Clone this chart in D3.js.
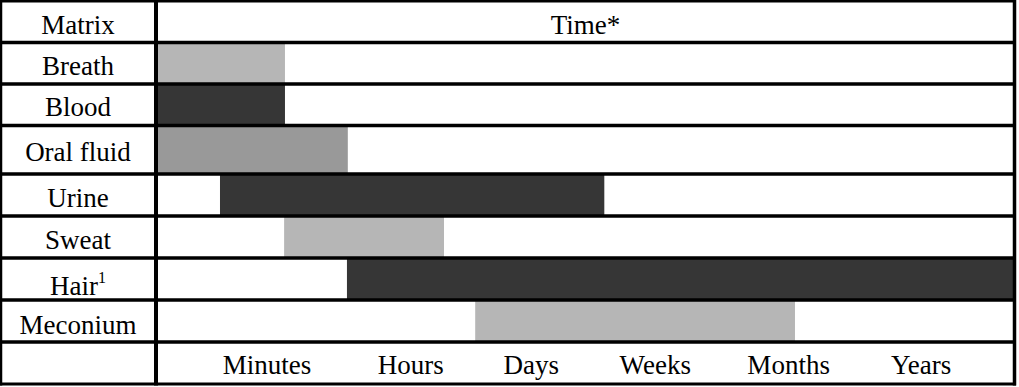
<!DOCTYPE html>
<html>
<head>
<meta charset="utf-8">
<script src="https://cdn.jsdelivr.net/npm/d3@7"></script>
<style>
  html, body { margin: 0; padding: 0; background: #fff; }
  svg { display: block; }
  text { font-family: "Liberation Serif", "Times New Roman", serif; fill: #000; }
</style>
</head>
<body>
<svg id="chart" width="1019" height="387"></svg>
<script>
// ---- data ----
const matrices = ["Breath", "Blood", "Oral fluid", "Urine", "Sweat", "Hair", "Meconium"];
const windowStart = [0, 0, 0, 7.25, 14.75, 22.1, 37.1];      // relative time position (0-100)
const windowEnd   = [14.85, 14.85, 22.2, 52.2, 33.45, 100, 74.5];
const shade       = ["light", "dark", "medium", "dark", "light", "dark", "light"];
const timeLabels  = ["Minutes", "Hours", "Days", "Weeks", "Months", "Years"];
const timeTickPos = [12.7, 29.5, 43.6, 58.1, 73.7, 89.2];
const headerLeft  = "Matrix";
const headerRight = "Time*";

// ---- layout ----
const svg = d3.select("#chart");
const colLeft = 1, colDiv = 156, colRight = 1014.5;
const fills = { light: "#b6b6b6", medium: "#999999", dark: "#363636" };

// rows: 0 = header, 1..7 matrices, 8 = time axis
const rowIndex = d3.scaleLinear().domain([0, 3, 4, 9]).range([1, 125.5, 174, 384]);
const x = d3.scaleLinear().domain([0, 100]).range([158, 1013]);

const rows = matrices.map((m, i) => ({ name: m, row: i + 1, s: windowStart[i], e: windowEnd[i], shade: shade[i] }));

// bars
svg.append("g").selectAll("rect").data(rows).join("rect")
  .attr("x", d => x(d.s))
  .attr("width", d => x(d.e) - x(d.s))
  .attr("y", d => rowIndex(d.row))
  .attr("height", d => rowIndex(d.row + 1) - rowIndex(d.row))
  .attr("fill", d => fills[d.shade]);

// grid lines (horizontal)
const hLines = d3.range(0, 10);
svg.append("g").selectAll("line").data(hLines).join("line")
  .attr("x1", colLeft - 1).attr("x2", colRight + 1.5)
  .attr("y1", d => rowIndex(d)).attr("y2", d => rowIndex(d))
  .attr("stroke", "#000").attr("stroke-width", d => (d === 0 || d === 9) ? 3 : 3.5);

// vertical lines
[[colLeft, 2.5], [colDiv, 4], [colRight, 3.5]].forEach(([vx, sw]) => {
  svg.append("line").attr("x1", vx).attr("x2", vx)
    .attr("y1", rowIndex(0) - 1.5).attr("y2", rowIndex(9) + 1.5)
    .attr("stroke", "#000").attr("stroke-width", sw);
});

const fontSize = 27;
const leftCenter = 78;
const rowBaseline = (r, off = 12) => (rowIndex(r) + rowIndex(r + 1)) / 2 + off;

// headers
svg.append("text").attr("x", leftCenter).attr("y", rowBaseline(0))
  .attr("text-anchor", "middle").attr("font-size", fontSize).text(headerLeft);
svg.append("text").attr("x", (x(0) + x(100)) / 2).attr("y", rowBaseline(0))
  .attr("text-anchor", "middle").attr("font-size", fontSize).text(headerRight);

// matrix labels
const lab = svg.append("g").selectAll("text").data(rows).join("text")
  .attr("x", leftCenter)
  .attr("y", d => rowBaseline(d.row, d.name === "Hair" ? 15.5 : (d.name === "Meconium" ? 13 : 11.5)))
  .attr("text-anchor", "middle").attr("font-size", fontSize);
lab.each(function(d) {
  const t = d3.select(this);
  if (d.name === "Hair") {
    t.append("tspan").text("Hair");
    t.append("tspan").attr("font-size", 16).attr("dy", -12).text("1");
  } else {
    t.text(d.name);
  }
});

// time axis labels
const axis = d3.axisBottom(x).tickValues(timeTickPos)
  .tickFormat((d, i) => timeLabels[i]).tickSize(0).tickPadding(0);
const axG = svg.append("g").attr("transform", `translate(0, ${rowBaseline(8, 11)})`).call(axis);
axG.select(".domain").remove();
axG.selectAll("text")
  .attr("dy", 0).attr("y", 0)
  .attr("font-size", fontSize)
  .style("font-family", '"Liberation Serif", "Times New Roman", serif')
  .attr("fill", "#000");
</script>
</body>
</html>
